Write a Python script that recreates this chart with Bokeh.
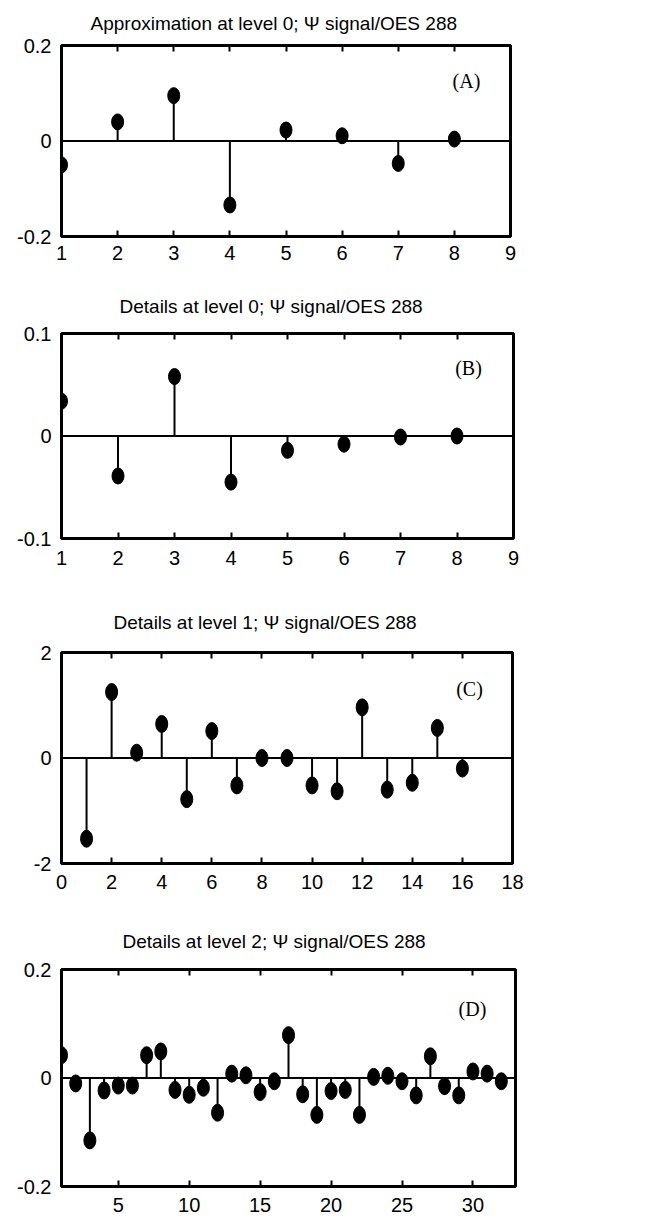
from bokeh.plotting import figure
from bokeh.layouts import column
from bokeh.models import Range1d, FixedTicker, LinearAxis, Span, Label, ColumnDataSource, Title
from bokeh.embed import file_html
from bokeh.resources import INLINE

# ---------------- data ----------------
a_idx = [1, 2, 3, 4, 5, 6, 7, 8]
a_val = [-0.050, 0.040, 0.095, -0.134, 0.023, 0.011, -0.047, 0.004]

b_idx = [1, 2, 3, 4, 5, 6, 7, 8]
b_val = [0.034, -0.039, 0.058, -0.045, -0.014, -0.008, -0.001, 0.000]

c_idx = list(range(1, 17))
c_val = [-1.53, 1.25, 0.10, 0.645, -0.78, 0.51, -0.52, 0.0,
         0.0, -0.52, -0.63, 0.96, -0.60, -0.47, 0.57, -0.20]

d_idx = list(range(1, 33))
d_val = [0.042, -0.010, -0.115, -0.023, -0.014, -0.014, 0.042, 0.049,
         -0.022, -0.031, -0.018, -0.064, 0.008, 0.005, -0.026, -0.006,
         0.079, -0.030, -0.068, -0.024, -0.022, -0.068, 0.002, 0.004,
         -0.006, -0.032, 0.040, -0.015, -0.032, 0.012, 0.008, -0.006]

titles = ["Approximation at level 0; \u03a8 signal/OES 288",
          "Details at level 0; \u03a8 signal/OES 288",
          "Details at level 1; \u03a8 signal/OES 288",
          "Details at level 2; \u03a8 signal/OES 288"]
tags = ["(A)", "(B)", "(C)", "(D)"]

a_xticks = [1, 2, 3, 4, 5, 6, 7, 8, 9]
b_xticks = [1, 2, 3, 4, 5, 6, 7, 8, 9]
c_xticks = [0, 2, 4, 6, 8, 10, 12, 14, 16, 18]
d_xticks = [5, 10, 15, 20, 25, 30]

a_yticks, a_ylabels = [-0.2, 0, 0.2], ["-0.2", "0", "0.2"]
b_yticks, b_ylabels = [-0.1, 0, 0.1], ["-0.1", "0", "0.1"]
c_yticks, c_ylabels = [-2, 0, 2], ["-2", "0", "2"]
d_yticks, d_ylabels = [-0.2, 0, 0.2], ["-0.2", "0", "0.2"]

FONT = "Liberation Sans"
TOTAL_W = 656


def panel(idx, vals, xr, yr, xticks, yticks, ylabels, title, tag,
          fw, fh, left, top, bottom, t_offset, t_standoff, tag_pos, mk_h, xstand):
    p = figure(frame_width=fw, frame_height=fh,
               min_border_left=left, min_border_right=TOTAL_W - left - fw,
               min_border_top=top, min_border_bottom=bottom,
               x_range=Range1d(*xr), y_range=Range1d(*yr),
               x_axis_location=None, y_axis_location=None,
               toolbar_location=None, output_backend="svg", title=None)
    p.grid.visible = False
    p.outline_line_color = "black"
    p.outline_line_width = 3
    p.background_fill_color = "white"
    p.border_fill_color = "white"

    # bottom axis
    xb = LinearAxis(ticker=FixedTicker(ticks=xticks))
    xb.major_tick_in = 6
    xb.major_tick_out = 0
    xb.major_tick_line_width = 2
    xb.minor_tick_line_color = None
    xb.axis_line_color = None
    xb.major_label_text_font = FONT
    xb.major_label_text_font_size = "20px"
    xb.major_label_text_color = "black"
    xb.major_label_standoff = xstand
    p.add_layout(xb, "below")

    # top axis (inward ticks only)
    xt = LinearAxis(ticker=FixedTicker(ticks=xticks))
    xt.major_tick_in = 6
    xt.major_tick_out = 0
    xt.major_tick_line_width = 2
    xt.minor_tick_line_color = None
    xt.axis_line_color = None
    xt.major_label_text_color = None
    xt.major_label_text_font_size = "0px"
    xt.major_label_standoff = 0
    p.add_layout(xt, "above")

    # left axis
    yl = LinearAxis(ticker=FixedTicker(ticks=yticks))
    yl.major_label_overrides = {t: s for t, s in zip(yticks, ylabels)}
    yl.major_tick_in = 0
    yl.major_tick_out = 0
    yl.major_tick_line_color = None
    yl.minor_tick_line_color = None
    yl.axis_line_color = None
    yl.major_label_text_font = FONT
    yl.major_label_text_font_size = "20px"
    yl.major_label_text_color = "black"
    yl.major_label_standoff = 10
    p.add_layout(yl, "left")

    # title
    t = Title(text=title, align="left", offset=t_offset, vertical_align="middle",
              standoff=t_standoff, text_font=FONT, text_font_size="19px",
              text_font_style="normal", text_color="black")
    p.add_layout(t, "above")

    p.add_layout(Span(location=0, dimension="width", line_color="black", line_width=2))

    src = ColumnDataSource(dict(x=idx, y=vals, z=[0] * len(idx)))
    p.segment(x0="x", y0="z", x1="x", y1="y", source=src, line_color="black", line_width=2)
    p.ellipse(x="x", y="y", width=12, height=mk_h, width_units="screen", height_units="screen",
              fill_color="black", line_color="black", source=src)

    p.add_layout(Label(x=tag_pos[0], y=tag_pos[1], x_units="screen", y_units="screen",
                       text=tag, text_align="center", text_baseline="middle",
                       text_font="Liberation Serif", text_font_size="20px", text_color="black"))
    return p


pa = panel(a_idx, a_val, (1, 9), (-0.2, 0.2), a_xticks, a_yticks, a_ylabels, titles[0], tags[0],
           449, 191, 58, 45, 41, 29, 21, (405, 156), 16, 9)
pb = panel(b_idx, b_val, (1, 9), (-0.1, 0.1), b_xticks, b_yticks, b_ylabels, titles[1], tags[1],
           452, 205, 61, 56, 52, 58, 32, (407, 171), 16, 12)
pc = panel(c_idx, c_val, (0, 18), (-2, 2), c_xticks, c_yticks, c_ylabels, titles[2], tags[2],
           451, 211, 61, 62, 48, 52, 38, (408, 175), 17, 11)
pd = panel(d_idx, d_val, (1, 33), (-0.2, 0.2), d_xticks, d_yticks, d_ylabels, titles[3], tags[3],
           454, 217, 58, 58, 37, 61, 34, (411, 178), 17, 11)

layout = column(pa, pb, pc, pd, spacing=0)
open("out.html", "w").write(file_html(layout, INLINE))
